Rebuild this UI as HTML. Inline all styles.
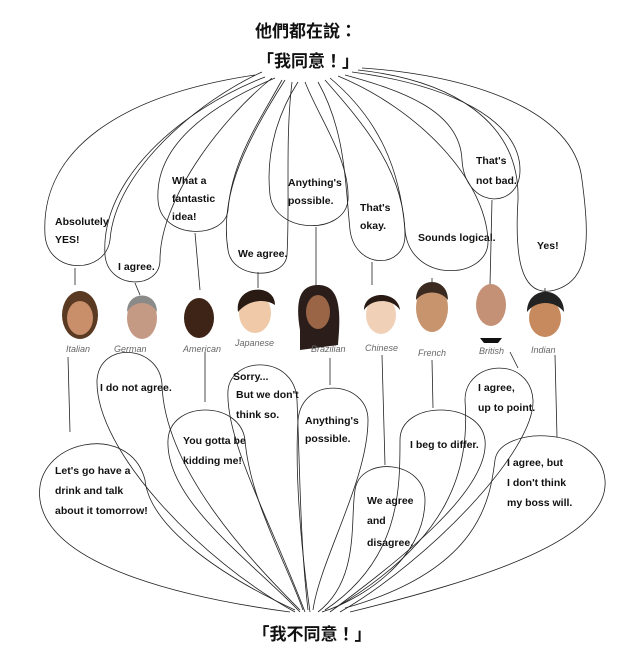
<!DOCTYPE html>
<html><head><meta charset="utf-8"><style>
html,body{margin:0;padding:0;background:#fff;}
body{width:640px;height:670px;overflow:hidden;position:relative;}
svg{position:absolute;left:0;top:0;}
.t{font-family:"Liberation Sans","Noto Sans CJK TC",sans-serif;font-weight:bold;font-size:17px;fill:#111;}
.b{font-family:"Liberation Sans Narrow","Liberation Sans",sans-serif;font-size:10.5px;font-weight:bold;fill:#111;}
.l{font-family:"Liberation Sans",sans-serif;font-size:9px;font-style:italic;fill:#666;}
</style></head><body>
<svg width="640" height="670" viewBox="0 0 640 670">
<g fill="none" stroke="#222" stroke-width="0.8">
<path d="M255,75 C120,95 40,150 45,235 C48,275 105,275 110,240 C115,170 200,100 262,72"/>
<path d="M265,77 C180,110 100,180 105,255 C108,290 160,290 160,260 C160,200 220,120 272,78"/>
<path d="M275,78 C200,110 155,150 158,200 C160,240 225,240 228,210 C232,160 260,120 282,80"/>
<path d="M285,80 C240,150 220,200 228,250 C232,280 285,280 287,255 C290,200 285,140 292,82"/>
<path d="M298,82 C280,110 265,150 270,195 C275,235 345,235 348,200 C350,160 320,120 305,82"/>
<path d="M318,82 C345,130 345,180 350,230 C355,270 405,270 405,235 C405,170 360,120 325,80"/>
<path d="M330,78 C380,120 400,170 405,230 C410,285 490,280 488,240 C485,180 420,110 338,76"/>
<path d="M345,75 C400,90 460,110 462,160 C465,210 520,210 520,170 C520,120 450,85 352,72"/>
<path d="M358,70 C450,80 520,120 518,200 C515,250 518,300 555,290 C590,280 590,240 582,180 C575,110 470,75 362,68"/>
<path d="M75,268 L75,285 M135,283 L140,295 M195,233 L200,290 M258,272 L258,288 M316,227 L316,290 M372,262 L372,285 M432,278 L432,283 M492,200 L490,285 M545,288 L545,292"/>
<path d="M290,612 C200,600 50,570 40,500 C32,440 130,420 145,480 C150,530 230,580 295,610"/>
<path d="M295,612 C200,560 95,450 97,380 C100,340 160,345 162,385 C165,470 250,560 300,610"/>
<path d="M300,612 C250,560 165,500 168,440 C170,400 240,400 245,440 C250,500 285,560 303,610"/>
<path d="M305,612 C270,520 225,440 228,390 C232,355 295,355 297,400 C300,470 300,540 308,610"/>
<path d="M310,612 C300,540 295,470 298,420 C302,375 368,380 368,420 C368,480 320,560 313,610"/>
<path d="M318,612 C360,580 350,520 355,490 C360,455 425,460 425,500 C425,560 360,600 322,612"/>
<path d="M325,610 C400,560 400,490 400,440 C400,400 480,400 485,440 C490,490 400,560 330,612"/>
<path d="M335,608 C450,540 470,470 465,400 C465,360 530,355 533,400 C535,450 430,560 340,612"/>
<path d="M345,608 C480,570 490,500 495,460 C500,425 600,425 605,480 C610,540 480,580 350,612"/>
<path d="M68,357 L70,432 M205,352 L205,402 M330,358 L330,385 M382,355 L385,465 M432,360 L433,408 M510,352 L518,368 M555,355 L557,437"/>
</g>
<text class="t" x="306" y="37" text-anchor="middle">他們都在說：</text>
<text class="t" x="308" y="67" text-anchor="middle">「我同意！」</text>
<text class="t" x="312" y="640" text-anchor="middle">「我不同意！」</text>
<g class="b">
<text x="55" y="225">Absolutely</text><text x="55" y="243">YES!</text>
<text x="118" y="270">I agree.</text>
<text x="172" y="184">What a</text><text x="172" y="202">fantastic</text><text x="172" y="220">idea!</text>
<text x="238" y="257">We agree.</text>
<text x="288" y="186">Anything's</text><text x="288" y="204">possible.</text>
<text x="360" y="211">That's</text><text x="360" y="229">okay.</text>
<text x="418" y="241">Sounds logical.</text>
<text x="476" y="164">That's</text><text x="476" y="184">not bad.</text>
<text x="537" y="249">Yes!</text>
<text x="55" y="474">Let's go have a</text><text x="55" y="494">drink and talk</text><text x="55" y="514">about it tomorrow!</text>
<text x="100" y="391">I do not agree.</text>
<text x="183" y="444">You gotta be</text><text x="183" y="464">kidding me!</text>
<text x="233" y="380">Sorry...</text><text x="236" y="398">But we don't</text><text x="236" y="418">think so.</text>
<text x="305" y="424">Anything's</text><text x="305" y="442">possible.</text>
<text x="367" y="504">We agree</text><text x="367" y="524">and</text><text x="367" y="546">disagree.</text>
<text x="410" y="448">I beg to differ.</text>
<text x="478" y="391">I agree,</text><text x="478" y="411">up to point.</text>
<text x="507" y="466">I agree, but</text><text x="507" y="486">I don't think</text><text x="507" y="506">my boss will.</text>
</g>
<g>
<ellipse cx="80" cy="315" rx="18" ry="24" fill="#5a3a22"/><ellipse cx="80" cy="318" rx="13" ry="17" fill="#c88f6a"/>
<ellipse cx="142" cy="318" rx="15" ry="21" fill="#c59a84"/><path d="M127,312 C127,290 157,290 157,312 C150,300 134,300 127,312Z" fill="#8a8a88"/>
<ellipse cx="199" cy="318" rx="15" ry="20" fill="#3d2417"/>
<ellipse cx="255" cy="313" rx="16" ry="20" fill="#f0c9a8"/><path d="M238,312 C234,285 275,282 275,305 C265,298 248,300 238,312Z" fill="#2a1a14"/>
<path d="M300,330 C295,300 300,285 318,285 C338,285 342,305 338,345 L300,350Z" fill="#2b1e1a"/><ellipse cx="318" cy="312" rx="12" ry="17" fill="#9a6446"/>
<ellipse cx="381" cy="315" rx="15" ry="19" fill="#f1d0b8"/><path d="M364,310 C364,290 398,290 400,310 C392,298 372,298 364,310Z" fill="#2a1a14"/>
<ellipse cx="432" cy="308" rx="16" ry="24" fill="#c7946e"/><path d="M416,300 C416,276 448,276 448,300 C440,290 424,290 416,300Z" fill="#3a2a20"/>
<ellipse cx="491" cy="305" rx="15" ry="21" fill="#c49176"/><path d="M480,338 L502,338 L498,343 L484,343Z" fill="#111"/>
<ellipse cx="545" cy="318" rx="16" ry="19" fill="#c68a5e"/><path d="M527,312 C527,285 564,285 564,312 C555,300 536,300 527,312Z" fill="#222"/>
</g>
<g class="l">
<text x="66" y="352">Italian</text><text x="114" y="352">German</text><text x="183" y="352">American</text>
<text x="235" y="346">Japanese</text><text x="311" y="352">Brazilian</text><text x="365" y="351">Chinese</text>
<text x="418" y="356">French</text><text x="479" y="354">British</text><text x="531" y="353">Indian</text>
</g>
</svg>
</body></html>
